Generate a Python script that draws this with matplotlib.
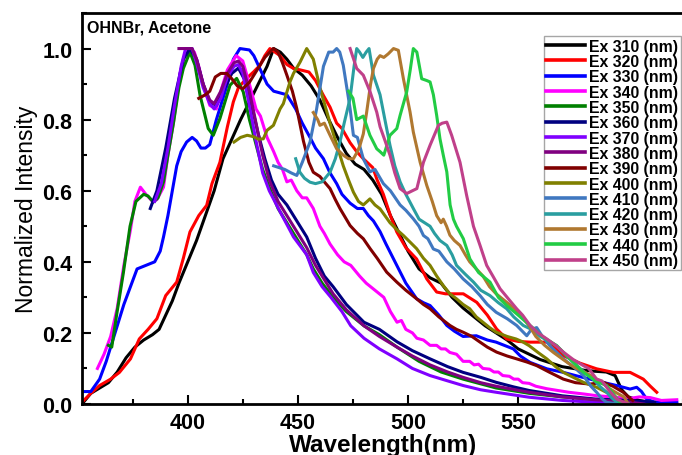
import numpy as np
import matplotlib
matplotlib.use("Agg")
import matplotlib.pyplot as plt
from matplotlib.ticker import MultipleLocator

plt.rcParams['font.family'] = ['Liberation Sans', 'DejaVu Sans']

labels = ["Ex 310 (nm)", "Ex 320 (nm)", "Ex 330 (nm)", "Ex 340 (nm)", "Ex 350 (nm)",
          "Ex 360 (nm)", "Ex 370 (nm)", "Ex 380 (nm)", "Ex 390 (nm)", "Ex 400 (nm)",
          "Ex 410 (nm)", "Ex 420 (nm)", "Ex 430 (nm)", "Ex 440 (nm)", "Ex 450 (nm)"]
colors = ["#000000", "#FF0000", "#0000FF", "#FF00FF", "#008000",
          "#000080", "#8000FF", "#800080", "#800000", "#808000",
          "#4078C0", "#2A9EA0", "#B07830", "#22CC44", "#C0408A"]

# (wavelength nm, normalized intensity)
s310 = [(352,0.00),(356,0.03),(360,0.045),(364,0.06),(368,0.09),(372,0.13),(376,0.16),(380,0.18),
        (384,0.195),(387,0.21),(390,0.25),(393,0.29),(396,0.34),(400,0.40),(404,0.46),(408,0.53),
        (412,0.60),(416,0.69),(420,0.745),(424,0.80),(428,0.85),(432,0.90),(436,0.95),(439,1.00),
        (442,0.99),(445,0.97),(448,0.945),(452,0.925),(456,0.895),(460,0.855),(464,0.80),(468,0.75),
        (472,0.705),(476,0.675),(480,0.66),(484,0.63),(488,0.59),(492,0.53),(496,0.48),(500,0.43),
        (505,0.38),(510,0.355),(515,0.34),(520,0.30),(525,0.27),(530,0.245),(535,0.22),(540,0.20),
        (545,0.18),(550,0.155),(555,0.14),(560,0.125),(565,0.115),(570,0.105),(575,0.10),(580,0.095),
        (585,0.092),(590,0.09),(594,0.08),(597,0.04),(600,0.02),(605,0.01),(610,0.005),(615,0.0),(622,0.0)]
s320 = [(352,0.005),(356,0.03),(360,0.052),(365,0.07),(369,0.089),(374,0.127),(378,0.183),(382,0.21),
        (386,0.24),(390,0.305),(395,0.343),(398,0.41),(401,0.484),(405,0.53),(408.6,0.559),(411,0.62),
        (414.6,0.68),(418,0.78),(420.7,0.85),(423,0.89),(426.7,0.916),(430,0.935),(432.8,0.953),
        (435,0.98),(437.3,1.0),(441.9,0.98),(445,0.955),(448,0.944),(451,0.94),(455,0.934),(458,0.91),
        (461.6,0.868),(464.6,0.835),(467.6,0.79),(470,0.775),(473.7,0.735),(476.7,0.71),(479.7,0.69),
        (484,0.665),(486,0.63),(488.8,0.59),(492,0.53),(494.9,0.484),(499,0.44),(503.9,0.408),
        (508.5,0.352),(513,0.315),(517,0.31),(521,0.31),(525.1,0.31),(531.2,0.286),(536,0.25),
        (540.2,0.211),(544.8,0.183),(550,0.176),(555.4,0.174),(563,0.174),(566,0.16),(570.5,0.136),
        (578,0.115),(585.6,0.099),(593.2,0.089),(600.8,0.089),(606.8,0.07),(610,0.05),(612.9,0.033)]
s330 = [(352,0.035),(356,0.035),(360,0.07),(363,0.12),(366,0.18),(368.5,0.23),(371,0.28),(374,0.33),
        (377,0.38),(381,0.39),(385,0.40),(387.5,0.43),(389,0.47),(391,0.53),(393,0.60),(395,0.67),
        (397,0.71),(399.5,0.737),(402,0.75),(404,0.74),(406,0.72),(408,0.72),(410,0.73),(413,0.80),
        (416,0.86),(418,0.90),(420.7,0.97),(423.7,1.0),(428,0.996),(430,0.98),(433,0.94),(436,0.90),
        (439,0.88),(442,0.875),(445,0.87),(449,0.83),(452,0.79),(455.5,0.75),(458,0.72),(461.6,0.69),
        (464.6,0.65),(467.6,0.62),(470,0.59),(473.7,0.565),(477,0.55),(479.7,0.55),(482,0.53),
        (484.3,0.515),(487.3,0.485),(490,0.45),(494.9,0.39),(499,0.34),(503.9,0.296),(507,0.285),
        (510,0.277),(514,0.25),(517.6,0.221),(521,0.205),(525,0.19),(531,0.192),(536,0.18),(540,0.174),
        (547.8,0.155),(551,0.135),(555.4,0.117),(563,0.099),(570.5,0.089),(576,0.08),(582.6,0.07),
        (589,0.06),(594.7,0.052),(600.8,0.042),(603.8,0.047),(606,0.035),(608.3,0.014),(612,0.005),(622,0.005)]
s340 = [(359,0.10),(362,0.14),(365,0.19),(368,0.27),(371,0.39),(374,0.49),(376,0.57),(378.5,0.61),
        (381,0.59),(384,0.57),(386,0.575),(389,0.61),(391,0.70),(393.5,0.79),(396.5,0.93),(399.5,1.0),
        (403,0.99),(405,0.95),(407,0.90),(410,0.84),(413,0.83),(415,0.88),(418,0.94),(422,0.98),
        (425,0.965),(428,0.90),(431,0.83),(433,0.81),(436,0.75),(439,0.71),(441,0.68),(443,0.66),
        (445,0.625),(447,0.63),(449.5,0.60),(452,0.58),(454,0.58),(457,0.55),(460,0.50),(462,0.48),
        (464.6,0.45),(468,0.42),(471,0.40),(474,0.39),(478,0.36),(481,0.34),(485,0.32),(489,0.30),
        (492,0.26),(495,0.23),(497,0.235),(499,0.21),(502,0.20),(504,0.185),(507,0.18),(510,0.165),
        (513,0.165),(515,0.155),(517,0.155),(519,0.145),(522,0.14),(525,0.12),(528,0.12),(530,0.11),
        (532,0.112),(534,0.10),(537,0.098),(539,0.09),(541,0.09),(543,0.08),(546,0.078),(548,0.07),
        (550,0.07),(552,0.06),(555,0.058),(558,0.05),(563,0.043),(568,0.038),(573,0.033),(580,0.028),
        (586,0.023),(593,0.02),(600,0.015),(605,0.02),(610,0.018),(615,0.01),(622,0.012)]
s350 = [(364,0.165),(365.5,0.16),(367.7,0.25),(370.8,0.37),(373.8,0.50),(376.5,0.57),(380,0.59),
        (382,0.585),(384.4,0.568),(386.5,0.58),(389,0.625),(391,0.70),(393.5,0.79),(396,0.89),(398,0.944),
        (401,0.99),(403.3,0.953),(405.6,0.868),(409.3,0.775),(411.6,0.756),(414.6,0.803),(419.2,0.897),
        (422.2,0.916),(425.2,0.878),(428,0.80),(431,0.73),(434,0.66),(437,0.61),(441,0.55),(445,0.51),
        (449,0.47),(454,0.42),(457,0.38),(461,0.34),(466,0.30),(472,0.26),(480,0.22),(487,0.195),
        (495,0.16),(505,0.12),(515,0.09),(525,0.07),(540,0.045),(555,0.03),(570,0.02),(585,0.012),
        (600,0.008),(610,0.005)]
s360 = [(383,0.55),(386,0.60),(390,0.72),(394,0.86),(398,0.97),(401,1.0),(404,0.97),(407,0.90),
        (410,0.85),(413,0.84),(416,0.88),(420,0.93),(423,0.945),(426,0.91),(429,0.84),(432,0.76),
        (435,0.69),(438,0.63),(441,0.59),(445,0.56),(449,0.52),(454,0.47),(458,0.41),(462,0.36),
        (466,0.33),(472,0.28),(480,0.23),(487,0.21),(495,0.175),(502,0.15),(510,0.127),(518,0.105),
        (525,0.089),(533,0.075),(540,0.061),(548,0.048),(555,0.038),(563,0.03),(570,0.023),(585,0.014),
        (600,0.01),(612,0.005)]
s370 = [(385,0.57),(388,0.62),(391,0.72),(394,0.84),(397,0.95),(399,1.0),(402,1.0),(404,0.96),
        (407,0.89),(410,0.845),(412,0.83),(415,0.86),(418,0.92),(421,0.95),(423,0.955),(425,0.93),
        (428,0.84),(431,0.74),(434,0.65),(437,0.60),(442,0.54),(448,0.47),(454,0.42),(457,0.37),
        (461,0.33),(465,0.30),(470,0.26),(474,0.22),(480,0.185),(487,0.155),(495,0.127),(502,0.10),
        (510,0.08),(518,0.065),(525,0.052),(533,0.04),(540,0.033),(555,0.019),(570,0.01),(585,0.005),
        (600,0.003),(605,0.0)]
s380 = [(396,1.0),(399,1.0),(402,1.0),(404,0.97),(407,0.90),(410,0.855),(412,0.845),(415,0.88),
        (418,0.93),(421,0.96),(423,0.965),(425,0.95),(428,0.88),(431,0.79),(434,0.70),(437,0.63),
        (441,0.57),(445,0.53),(449,0.49),(454,0.44),(458,0.39),(462,0.35),(466,0.31),(472,0.265),
        (480,0.22),(487,0.19),(495,0.16),(502,0.135),(510,0.11),(518,0.09),(525,0.075),(533,0.06),
        (540,0.05),(555,0.033),(570,0.02),(585,0.012),(600,0.006),(607,0.0)]
s390 = [(405,0.86),(408,0.87),(410,0.88),(412.5,0.92),(415,0.93),(417.7,0.93),(420,0.915),(422.5,0.895),
        (425,0.887),(428,0.905),(431,0.935),(435,0.975),(438.8,1.0),(441,0.99),(443,0.96),(445,0.925),
        (447.5,0.88),(449.5,0.831),(452.5,0.74),(455,0.68),(457,0.652),(460,0.64),(462,0.625),
        (464.6,0.606),(467,0.575),(469.1,0.55),(471.5,0.525),(473.7,0.502),(477,0.48),(479.7,0.465),
        (482.8,0.437),(486,0.41),(490.3,0.371),(494.9,0.343),(499,0.32),(503.9,0.296),(507,0.28),
        (510,0.268),(514,0.245),(519,0.221),(522,0.21),(525,0.202),(529,0.19),(532.7,0.174),(536,0.16),
        (540.2,0.146),(545,0.135),(549.3,0.127),(554,0.118),(558.4,0.108),(564,0.09),(570.5,0.07),
        (576,0.06),(582.6,0.056),(588.7,0.061),(593,0.05),(597.7,0.033),(600,0.02),(602,0.01)]
s400 = [(421,0.737),(424,0.75),(427,0.756),(430,0.752),(432,0.745),(434.3,0.746),(436,0.77),
        (438.9,0.784),(441.9,0.83),(443.4,0.845),(446.4,0.906),(448,0.93),(451,0.962),(454,1.0),
        (457,0.97),(460,0.89),(464.6,0.79),(467.6,0.73),(470.6,0.67),(473,0.63),(475.2,0.596),
        (477.5,0.57),(479.7,0.56),(482.7,0.577),(485,0.56),(487.3,0.549),(489.5,0.53),(491.8,0.51),
        (495,0.49),(497.9,0.474),(501,0.455),(503.9,0.437),(507,0.41),(510,0.39),(513,0.36),(516,0.333),
        (519,0.31),(522,0.296),(525,0.28),(528,0.268),(531,0.245),(534,0.23),(537,0.215),(540,0.202),
        (545,0.19),(549,0.183),(552,0.175),(555,0.164),(559,0.145),(563,0.127),(567,0.105),(570.5,0.089),
        (575,0.075),(579.6,0.061),(585.6,0.047),(590,0.033),(593,0.023),(596,0.01),(598,0.0)]
s410 = [(439,0.67),(441.5,0.665),(444,0.66),(447,0.65),(449.5,0.643),(452,0.68),(455.5,0.737),
        (458.5,0.83),(461.6,0.95),(464,0.99),(466,0.99),(467.6,1.0),(469,0.99),(470.6,0.953),
        (473.7,0.831),(475.2,0.756),(477,0.75),(479.7,0.69),(482.7,0.653),(485,0.66),(488.8,0.62),
        (492,0.60),(496.4,0.56),(499,0.545),(502.4,0.521),(505,0.50),(507,0.474),(509,0.465),
        (511.5,0.436),(514,0.43),(517.6,0.40),(521,0.38),(525,0.352),(529,0.33),(532.7,0.305),
        (536,0.28),(540,0.258),(545,0.24),(549.3,0.221),(553.9,0.192),(556,0.21),(558.4,0.215),
        (561,0.19),(564.4,0.164),(570.5,0.127),(576,0.10),(579.6,0.08),(583,0.05),(585.6,0.033),
        (588,0.015),(590,0.005),(595,0.0)]
s420 = [(449,0.69),(450.9,0.652),(453,0.635),(455.5,0.624),(458,0.62),(461,0.625),(464.6,0.652),
        (467,0.69),(469.1,0.737),(471,0.79),(473.7,0.86),(475.5,0.95),(476.7,1.0),(478,0.99),
        (479.5,0.975),(481,0.99),(482.3,1.0),(484.3,0.925),(487.3,0.87),(489.5,0.80),(491.8,0.728),
        (494,0.67),(496.4,0.625),(499,0.59),(502.4,0.55),(505,0.52),(507.5,0.51),(510,0.50),(512,0.48),
        (514.5,0.46),(517.6,0.446),(520,0.42),(522,0.39),(526,0.365),(529.7,0.343),(533,0.32),
        (537.2,0.305),(541,0.285),(544.8,0.268),(548,0.245),(552.3,0.221),(556,0.21),(560,0.19),
        (563,0.18),(567.5,0.164),(572,0.135),(576.6,0.108),(580,0.09),(584.1,0.07),(587,0.05),
        (590.2,0.033),(592,0.02),(594.7,0.005),(600,0.0)]
s430 = [(457,0.82),(459,0.80),(460,0.784),(462,0.79),(464.6,0.756),(467.6,0.718),(470.6,0.70),
        (473,0.69),(475.2,0.69),(477,0.71),(478.2,0.728),(479.7,0.76),(481.2,0.82),(483,0.90),
        (484.3,0.944),(486,0.97),(487.3,0.98),(489,0.975),(491,0.985),(493.4,1.0),(495.6,0.995),
        (497.9,0.915),(500.9,0.822),(502.4,0.765),(505.5,0.68),(508.5,0.615),(511,0.57),(513,0.53),
        (515,0.51),(516,0.52),(517.5,0.50),(519,0.475),(521,0.46),(523.6,0.446),(526,0.42),(528,0.40),
        (531,0.38),(534,0.36),(537,0.33),(540,0.31),(544,0.29),(548,0.27),(551,0.25),(555,0.22),
        (558,0.19),(562,0.165),(566,0.145),(570,0.127),(575,0.105),(580,0.09),(583,0.08),(587,0.065),
        (591,0.045),(595,0.03),(598,0.02),(600,0.0)]
s440 = [(473,0.88),(475,0.86),(476.7,0.80),(479.7,0.81),(482.7,0.756),(485.8,0.718),(487.3,0.71),
        (489,0.70),(491.8,0.756),(494.9,0.775),(496.4,0.812),(499.4,0.878),(501,0.94),(502.4,1.0),
        (504,0.99),(506.2,0.915),(508.5,0.91),(510,0.906),(511.5,0.87),(513,0.812),(514.5,0.746),
        (516,0.70),(517.6,0.653),(519.1,0.56),(520.6,0.52),(522,0.50),(525.1,0.465),(528.1,0.408),
        (532,0.37),(537.2,0.343),(541,0.30),(544.8,0.277),(550,0.25),(555.4,0.221),(561,0.19),
        (567.5,0.164),(573,0.13),(579.6,0.089),(585,0.065),(590.2,0.052),(593,0.03),(596.2,0.005),(600,0.0)]
s450 = [(473.7,1.0),(476.7,0.944),(479.7,0.925),(482.8,0.878),(485.8,0.821),(487.3,0.78),(489.6,0.74),
        (491.8,0.70),(494,0.65),(496.4,0.606),(499.4,0.592),(502,0.60),(504,0.606),(507,0.68),(510,0.728),
        (513.8,0.784),(515.5,0.79),(517.6,0.793),(519.8,0.756),(523.6,0.68),(526.6,0.587),(529.7,0.50),
        (532.7,0.446),(535.7,0.39),(538.5,0.36),(541.8,0.324),(545,0.30),(549.3,0.268),(552,0.25),
        (555.4,0.221),(559,0.20),(563,0.183),(567,0.165),(570.5,0.146),(575,0.125),(579.6,0.108),
        (582,0.10),(585.6,0.07),(588,0.065),(591,0.04),(594.7,0.014),(598,0.005),(600,0.0)]

series = [s310, s320, s330, s340, s350, s360, s370, s380, s390, s400, s410, s420, s430, s440, s450]

fig = plt.figure(figsize=(6.82, 4.56), dpi=100)
ax = fig.add_axes([82/682, 1-405/456, (683.4-82)/682, (405-14)/456])

for data, lab, col in zip(series, labels, colors):
    arr = np.array(data)
    ax.plot(arr[:, 0], arr[:, 1], color=col, lw=2.2, label=lab, solid_joinstyle='round')

ax.set_xlim(352, 625)
ax.set_ylim(0, 1.10)
ax.xaxis.set_major_locator(MultipleLocator(50))
ax.xaxis.set_minor_locator(MultipleLocator(25))
ax.yaxis.set_major_locator(MultipleLocator(0.2))
ax.yaxis.set_minor_locator(MultipleLocator(0.1))
ax.yaxis.set_major_formatter(matplotlib.ticker.FormatStrFormatter('%.1f'))
ax.tick_params(which='both', direction='in', top=False, right=False, width=1.5)
ax.tick_params(which='major', length=6.5)
ax.tick_params(which='minor', length=3.6)
ax.tick_params(axis='x', pad=5.5)
ax.tick_params(axis='y', pad=7)
for lbl in ax.get_xticklabels() + ax.get_yticklabels():
    lbl.set_fontsize(15.5)
    lbl.set_fontweight('bold')
for sp in ax.spines.values():
    sp.set_linewidth(2.0)

ax.set_xlabel("Wavelength(nm)", fontsize=17.5, fontweight='bold', labelpad=0)
ax.set_ylabel("Normalized Intensity", fontsize=16.5, labelpad=3)
ax.text(0.008, 0.983, "OHNBr, Acetone", transform=ax.transAxes, fontsize=11.5,
        fontweight='bold', ha='left', va='top')

leg = ax.legend(loc='upper left', bbox_to_anchor=(544/682, 1-37.3/456),
                bbox_transform=fig.transFigure, fontsize=11.4, frameon=True,
                fancybox=False, handlelength=2.45, handletextpad=0.25,
                labelspacing=0.02, borderpad=0.15, borderaxespad=0)
leg.get_frame().set_edgecolor('#909090')
leg.get_frame().set_linewidth(1.0)
for t in leg.get_texts():
    t.set_fontweight('bold')
for h in leg.get_lines():
    h.set_linewidth(2.6)

fig.savefig("out.png", dpi=100)
